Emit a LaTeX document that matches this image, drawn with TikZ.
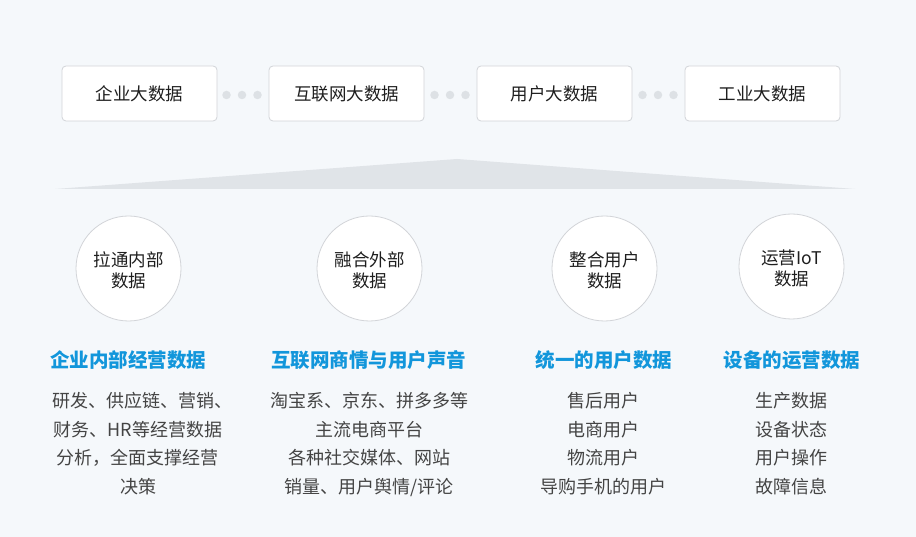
\documentclass[tikz,border=0pt]{standalone}
\usepackage{fontspec}
\setmainfont{Noto Sans CJK SC}
\newfontfamily\cjk{Noto Sans CJK SC}
\definecolor{bgc}{HTML}{F5F8FB}
\definecolor{tric}{HTML}{E0E4E8}
\definecolor{boxline}{HTML}{D2D4D8}
\definecolor{dotc}{HTML}{DDE1E5}
\definecolor{headc}{HTML}{1296DB}
\definecolor{bodyc}{HTML}{444444}
\definecolor{darkc}{HTML}{1E1E1E}
\newcommand\mycirctext[2]{\raisebox{-4.5pt}[\height][\depth]{\begin{tabular}{@{}c@{}}#1\\#2\end{tabular}}}
\tikzset{
  topbox/.style={draw=boxline, line width=0.8pt, fill=white, rounded corners=4pt,
    minimum width=155pt, minimum height=55pt, inner sep=0pt,
    font=\cjk\fontsize{17.5}{21}\selectfont, text=darkc},
  dotnode/.style={circle, fill=dotc, minimum size=8.5pt, inner sep=0pt},
  circnode/.style={circle, draw=boxline, line width=0.8pt, fill=white, minimum size=105pt,
    inner sep=0pt, align=center, font=\cjk\fontsize{17.5}{21}\selectfont, text=darkc},
  headnode/.style={font=\cjk\bfseries\fontsize{19.5}{23}\selectfont, text=headc, inner sep=0pt},
  bodynode/.style={align=center, font=\cjk\fontsize{18}{28.5}\selectfont, text=bodyc, inner sep=0pt}
}
\begin{document}
\begin{tikzpicture}[x=1pt,y=-1pt]
\useasboundingbox (0,0) rectangle (916,537);
\fill[bgc] (0,0) rectangle (916,537);
% top boxes
\node[topbox] (b1) at (139.5,93.5) {企业大数据};
\node[topbox] (b2) at (346.5,93.5) {互联网大数据};
\node[topbox] (b3) at (554.5,93.5) {用户大数据};
\node[topbox] (b4) at (762.5,93.5) {工业大数据};
% dots
\foreach \g/\c in {a/242, b/450, c/658}{
  \node[dotnode] (d\g1) at (\c-15.5,95) {};
  \node[dotnode] (d\g2) at (\c,95) {};
  \node[dotnode] (d\g3) at (\c+15.5,95) {};
}
% triangle
\fill[tric] (55,189) -- (457,159) -- (855,189) -- cycle;
% circles
\node[circnode] (c1) at (128.5,268.5) {\mycirctext{拉通内部}{数据}};
\node[circnode] (c2) at (369.5,268.5) {\mycirctext{融合外部}{数据}};
\node[circnode] (c3) at (604.5,268.5) {\mycirctext{整合用户}{数据}};
\node[circnode] (c4) at (791.5,266.5) {\mycirctext{运营IoT}{数据}};
% headings
\node[headnode] (h1) at (128,360) {企业内部经营数据};
\node[headnode] (h2) at (368.5,360) {互联网商情与用户声音};
\node[headnode] (h3) at (604,360) {统一的用户数据};
\node[headnode] (h4) at (792,360) {设备的运营数据};
% bodies
\node[bodynode, anchor=north] (t1) at (138,392.5) {\hspace*{8pt}研发、供应链、营销、\\财务、HR等经营数据\\分析，全面支撑经营\\决策};
\node[bodynode, anchor=north] (t2) at (369,392.5) {淘宝系、京东、拼多多等\\主流电商平台\\各种社交媒体、网站\\销量、用户舆情/评论};
\node[bodynode, anchor=north] (t3) at (603.5,392.5) {售后用户\\电商用户\\物流用户\\导购手机的用户};
\node[bodynode, anchor=north] (t4) at (791.5,392.5) {生产数据\\设备状态\\用户操作\\故障信息};
\end{tikzpicture}
\end{document}
